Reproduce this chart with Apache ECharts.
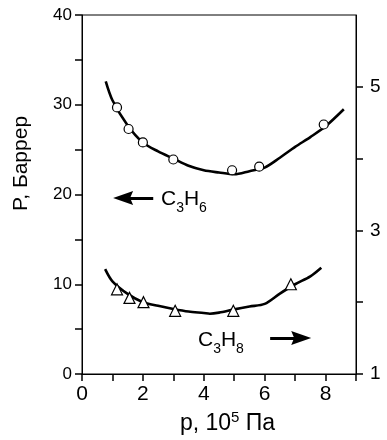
<!DOCTYPE html>
<html>
<head>
<meta charset="utf-8">
<script src="https://cdn.jsdelivr.net/npm/echarts@6/dist/echarts.min.js"></script>
<style>html,body{margin:0;padding:0;background:#fff;}#c{width:387px;height:440px;}</style>
</head>
<body>
<div id="c"></div>
<script>
// ---- data ----
const xLabels = [0, 2, 4, 6, 8];
const leftLabels = [0, 10, 20, 30, 40];
const rightLabels = [1, 3, 5];
const rightTicks = [1, 2, 3, 4, 5];

// C3H6 (left axis, Barrer)
const c3h6X = [1.15, 1.53, 2.0, 3.0, 4.93, 5.82, 7.94];
const c3h6Y = [29.7, 27.3, 25.8, 23.9, 22.7, 23.1, 27.8];
const c3h6FitX = [0.78, 1.0, 1.5, 2.0, 2.5, 3.0, 3.5, 4.0, 4.5, 5.0, 5.5, 6.0, 6.5, 7.0, 7.5, 8.0, 8.6];
const c3h6FitY = [32.6, 30.5, 27.7, 25.8, 24.8, 24.0, 23.2, 22.7, 22.45, 22.25, 22.6, 23.0, 24.1, 25.3, 26.4, 27.6, 29.5];

// C3H8 (right axis)
const c3h8X = [1.15, 1.56, 2.02, 3.06, 4.97, 6.86];
const c3h8Y = [2.18, 2.06, 2.0, 1.88, 1.88, 2.25];
const c3h8FitX = [0.76, 1.0, 1.5, 2.0, 2.5, 3.0, 3.5, 4.0, 4.2, 4.5, 5.0, 5.5, 6.0, 6.5, 7.0, 7.5, 7.86];
const c3h8FitY = [2.46, 2.29, 2.115, 2.0, 1.95, 1.906, 1.87, 1.85, 1.84, 1.855, 1.9, 1.94, 1.976, 2.12, 2.25, 2.36, 2.48];

// arrows (data coords): shaft from/to, head centre
const shaftC3H6 = [[2.34, 19.6], [1.3, 19.6]];
const headC3H6 = [1.35, 19.6];
const shaftC3H8 = [[6.18, 1.5], [7.25, 1.5]];
const headC3H8 = [7.2, 1.5];

const zip = (a, b) => a.map((v, i) => [v, b[i]]);
const FONT = 'Liberation Sans, Arial, sans-serif';
const HEAD_LEFT = 'path://M0,7 L20,0 L17,7 L20,14 Z';
const HEAD_RIGHT = 'path://M20,7 L0,0 L3,7 L0,14 Z';

const chart = echarts.init(document.getElementById('c'));
chart.setOption({
  animation: false,
  backgroundColor: '#fff',
  textStyle: { fontFamily: FONT, color: '#000' },
  grid: { left: 82, right: 31, top: 15, bottom: 66, show: true, borderColor: '#000', borderWidth: 1, backgroundColor: 'transparent' },
  xAxis: {
    type: 'value', min: 0, max: 9, interval: 1,
    name: '{a|p, 10}{s|5}{a| Па}',
    nameLocation: 'middle', nameGap: 25,
    nameTextStyle: {
      padding: [0, 0, 0, 17],
      rich: {
        a: { fontSize: 23, lineHeight: 27, fontFamily: FONT, color: '#000' },
        s: { fontSize: 15, lineHeight: 27, verticalAlign: 'top', fontFamily: FONT, color: '#000' }
      }
    },
    axisLine: { lineStyle: { color: '#000', width: 1 } },
    axisTick: { length: 7, lineStyle: { color: '#000', width: 1.5 } },
    axisLabel: { customValues: xLabels, fontSize: 21, color: '#000', margin: 10, fontFamily: FONT },
    splitLine: { show: false }
  },
  yAxis: [
    {
      type: 'value', min: 0, max: 40, interval: 5,
      name: 'P, Баррер', nameLocation: 'middle', nameGap: 50, nameRotate: 90,
      nameTextStyle: { fontSize: 21, color: '#000', fontFamily: FONT, padding: [0, 0, 0, 62] },
      axisLine: { show: true, lineStyle: { color: '#000', width: 1 } },
      axisTick: { length: 7, lineStyle: { color: '#000', width: 1.5 } },
      axisLabel: { customValues: leftLabels, fontSize: 17, color: '#000', margin: 10, fontFamily: FONT },
      splitLine: { show: false }
    },
    {
      type: 'value', min: 1, max: 6, interval: 1, position: 'right',
      axisLine: { show: true, lineStyle: { color: '#000', width: 1 } },
      axisTick: { length: 7, customValues: rightTicks, lineStyle: { color: '#000', width: 1.5 } },
      axisLabel: { customValues: rightLabels, fontSize: 19, color: '#000', margin: 14, fontFamily: FONT },
      splitLine: { show: false }
    }
  ],
  series: [
    {
      name: 'C3H6 fit', type: 'line', yAxisIndex: 0, data: zip(c3h6FitX, c3h6FitY),
      smooth: 0.3, showSymbol: false, lineStyle: { color: '#000', width: 2.6 }, z: 2, silent: true,
      markLine: {
        silent: true, symbol: ['none', 'none'], label: { show: false },
        lineStyle: { color: '#000', width: 3, type: 'solid' },
        data: [[{ coord: shaftC3H6[0] }, { coord: shaftC3H6[1] }]]
      }
    },
    {
      name: 'C3H6', type: 'scatter', yAxisIndex: 0, data: zip(c3h6X, c3h6Y),
      symbol: 'circle', symbolSize: 9, z: 3,
      itemStyle: { color: '#fff', borderColor: '#000', borderWidth: 1.2, opacity: 1 }
    },
    {
      name: 'C3H8 fit', type: 'line', yAxisIndex: 1, data: zip(c3h8FitX, c3h8FitY),
      smooth: 0.3, showSymbol: false, lineStyle: { color: '#000', width: 2.6 }, z: 2, silent: true,
      markLine: {
        silent: true, symbol: ['none', 'none'], label: { show: false },
        lineStyle: { color: '#000', width: 3, type: 'solid' },
        data: [[{ coord: shaftC3H8[0] }, { coord: shaftC3H8[1] }]]
      }
    },
    {
      name: 'C3H8', type: 'scatter', yAxisIndex: 1, data: zip(c3h8X, c3h8Y),
      symbol: 'triangle', symbolSize: 11, z: 3,
      itemStyle: { color: '#fff', borderColor: '#000', borderWidth: 1.2, opacity: 1 }
    },
    {
      name: 'arrow C3H6', type: 'scatter', yAxisIndex: 0, data: [headC3H6], silent: true,
      symbol: HEAD_LEFT, symbolSize: [20, 14], z: 4,
      itemStyle: { color: '#000', opacity: 1 }
    },
    {
      name: 'arrow C3H8', type: 'scatter', yAxisIndex: 1, data: [headC3H8], silent: true,
      symbol: HEAD_RIGHT, symbolSize: [20, 14], z: 4,
      itemStyle: { color: '#000', opacity: 1 }
    }
  ],
  graphic: [
    {
      type: 'text', left: 161, top: 189, silent: true,
      style: {
        text: '{m|C}{s|3}{m|H}{s|6}',
        rich: {
          m: { fontSize: 21, lineHeight: 22, fontFamily: FONT, fill: '#000' },
          s: { fontSize: 14, lineHeight: 32, verticalAlign: 'bottom', fontFamily: FONT, fill: '#000' }
        }
      }
    },
    {
      type: 'text', left: 198, top: 330, silent: true,
      style: {
        text: '{m|C}{s|3}{m|H}{s|8}',
        rich: {
          m: { fontSize: 21, lineHeight: 22, fontFamily: FONT, fill: '#000' },
          s: { fontSize: 14, lineHeight: 32, verticalAlign: 'bottom', fontFamily: FONT, fill: '#000' }
        }
      }
    }
  ]
});
</script>
</body>
</html>
